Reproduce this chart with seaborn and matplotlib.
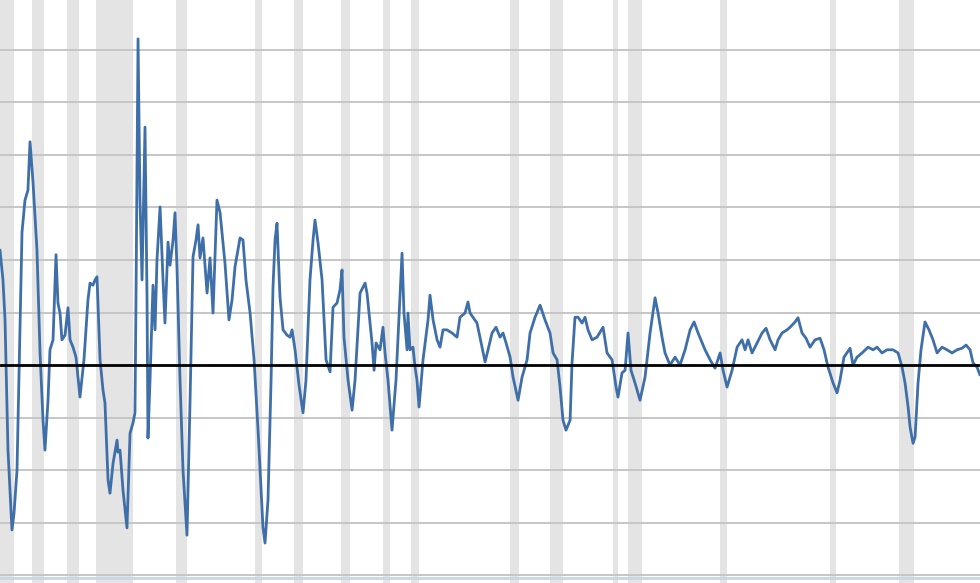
import matplotlib.pyplot as plt
import pandas as pd
import seaborn as sns

# year-over-year % change (decimal years)
years = [
    1920.20, 1920.49, 1920.69, 1920.98, 1921.37, 1921.57, 1921.86, 1922.15, 1922.35, 1922.64,
    1922.93, 1923.13, 1923.42, 1923.62, 1923.81, 1924.11, 1924.40, 1924.59, 1924.89, 1925.08,
    1925.38, 1925.67, 1925.86, 1926.06, 1926.25, 1926.55, 1926.84, 1927.04, 1927.33, 1927.62,
    1928.01, 1928.40, 1928.79, 1928.99, 1929.28, 1929.48, 1929.67, 1929.97, 1930.26, 1930.45,
    1930.75, 1930.94, 1931.24, 1931.63, 1931.72, 1931.92, 1932.21, 1932.60, 1932.90, 1933.19,
    1933.38, 1933.48, 1933.68, 1933.87, 1934.07, 1934.36, 1934.56, 1934.65, 1934.85, 1935.14,
    1935.34, 1935.53, 1935.83, 1936.12, 1936.31, 1936.61, 1936.80, 1937.10, 1937.29, 1937.49,
    1937.78, 1938.07, 1938.46, 1938.76, 1939.05, 1939.34, 1939.54, 1939.73, 1940.02, 1940.42,
    1940.71, 1941.00, 1941.39, 1941.69, 1942.17, 1942.56, 1942.86, 1943.15, 1943.64, 1943.93,
    1944.22, 1944.62, 1945.01, 1945.40, 1945.69, 1945.88, 1946.08, 1946.37, 1946.67, 1946.86,
    1947.06, 1947.25, 1947.54, 1947.84, 1948.23, 1948.52, 1948.72, 1949.01, 1949.40, 1949.79,
    1950.08, 1950.47, 1950.77, 1950.96, 1951.26, 1951.65, 1952.04, 1952.43, 1952.72, 1953.11,
    1953.40, 1953.60, 1953.79, 1954.19, 1954.58, 1954.87, 1955.36, 1955.85, 1956.04, 1956.53,
    1956.73, 1956.92, 1957.31, 1957.60, 1957.80, 1958.09, 1958.48, 1958.87, 1959.26, 1959.46,
    1959.65, 1959.95, 1960.04, 1960.24, 1960.53, 1960.73, 1960.92, 1961.12, 1961.51, 1962.00,
    1962.19, 1962.49, 1962.88, 1963.17, 1963.46, 1963.85, 1964.34, 1964.83, 1965.12, 1965.61,
    1965.90, 1966.10, 1966.78, 1967.27, 1967.57, 1967.86, 1968.25, 1968.64, 1969.03, 1969.32,
    1969.62, 1970.01, 1970.30, 1970.79, 1971.18, 1971.67, 1971.96, 1972.45, 1972.94, 1973.42,
    1973.91, 1974.21, 1974.60, 1974.89, 1975.18, 1975.47, 1975.87, 1976.06, 1976.35, 1976.65,
    1977.04, 1977.33, 1977.62, 1978.02, 1978.50, 1979.09, 1979.48, 1979.97, 1980.36, 1980.55,
    1980.94, 1981.24, 1981.53, 1981.82, 1982.21, 1982.70, 1983.19, 1983.68, 1984.17, 1984.46,
    1984.85, 1985.14, 1985.63, 1986.12, 1986.61, 1987.10, 1987.59, 1987.98, 1988.37, 1989.05,
    1989.54, 1990.03, 1990.52, 1990.81, 1991.20, 1991.69, 1992.18, 1992.66, 1992.96, 1993.25,
    1993.64, 1994.13, 1994.62, 1995.01, 1995.40, 1995.89, 1996.18, 1996.57, 1997.06, 1997.35,
    1997.84, 1998.13, 1998.52, 1998.91, 1999.30, 1999.79, 2000.28, 2000.67, 2001.06, 2001.55,
    2001.94, 2002.23, 2002.62, 2003.21, 2003.50, 2003.89, 2004.38, 2004.97, 2005.46, 2005.85,
    2006.33, 2006.82, 2007.41, 2007.90, 2008.29, 2008.58, 2008.88, 2009.07, 2009.36, 2009.56,
    2009.85, 2010.14, 2010.53, 2010.92, 2011.31, 2011.71, 2012.19, 2012.68, 2013.17, 2013.66,
    2014.15, 2014.54, 2014.93, 2015.22, 2015.61, 2015.90,
]
pct_change = [
    21.9, 16.2, 8.6, -16.2, -31.4, -28.2, -20.0, 6.7, 25.3, 31.4,
    33.3, 42.5, 34.9, 28.2, 21.9, 2.3, -10.5, -16.2, -6.7, 2.9,
    4.8, 21.0, 11.8, 9.9, 4.8, 5.7, 10.9, 4.8, 3.4, 1.5,
    -6.1, 1.0, 12.4, 15.6, 15.2, 16.2, 16.8, 1.0, -4.8, -7.2,
    -21.9, -24.4, -18.7, -14.3, -16.6, -16.2, -23.8, -31.0, -13.0, -11.0,
    -9.1, 12.4, 62.1, 31.4, 16.2, 45.3, 12.4, -13.9, -2.9, 15.2,
    6.7, 20.0, 30.1, 16.2, 8.0, 23.4, 19.0, 23.8, 29.0, 18.1,
    -2.9, -20.0, -32.4, -6.7, 20.6, 23.8, 26.7, 20.4, 24.2, 13.7,
    20.4, 9.9, 31.4, 29.0, 19.4, 8.6, 12.4, 18.7, 24.2, 23.8,
    16.2, 9.9, 1.0, -12.4, -23.8, -30.9, -33.9, -25.7, -2.9, 14.9,
    23.8, 27.0, 13.0, 6.7, 5.7, 5.3, 6.7, 2.9, -3.8, -9.1,
    -2.9, 16.2, 23.8, 27.6, 23.2, 16.2, 1.0, -1.3, 11.0, 11.8,
    14.3, 18.1, 5.3, -2.9, -8.6, -2.9, 13.7, 15.6, 13.7, 4.2,
    -1.0, 4.2, 2.9, 7.2, 2.3, -2.9, -12.4, -2.9, 13.0, 21.3,
    9.9, 2.9, 9.9, 2.9, 3.4, -0.4, -2.9, -8.0, 1.0, 8.6,
    13.3, 8.6, 4.8, 3.4, 6.7, 6.7, 6.1, 5.3, 9.1, 9.9,
    12.0, 9.9, 8.0, 3.4, 0.6, 2.9, 6.1, 7.2, 5.3, 6.1,
    4.2, 1.5, -2.3, -6.7, -2.3, 1.0, 6.1, 9.1, 11.4, 8.6,
    6.1, 2.3, 1.0, -4.2, -10.5, -12.4, -10.5, 0.4, 9.1, 9.1,
    8.0, 9.1, 6.7, 4.8, 5.3, 7.2, 2.3, 1.0, -4.2, -6.1,
    -1.5, -1.0, 6.1, -1.0, -3.4, -6.7, -2.3, 6.1, 12.8, 9.9,
    5.3, 2.3, 0.0, 1.5, 0.0, 2.9, 6.7, 8.2, 6.1, 2.9,
    1.0, -0.6, 2.3, -1.0, -4.2, -1.0, 3.4, 4.8, 2.9, 4.8,
    2.3, 4.2, 6.1, 7.0, 4.8, 2.9, 4.8, 6.1, 6.7, 7.2,
    8.2, 9.0, 6.1, 5.1, 3.4, 4.8, 5.1, 2.9, -0.4, -3.4,
    -5.3, -2.9, 1.5, 3.2, 0.0, 1.5, 2.3, 3.4, 2.9, 3.4,
    2.3, 2.9, 2.9, 2.3, -0.4, -3.4, -8.0, -11.8, -14.9, -13.7,
    -3.4, 2.9, 8.2, 6.7, 4.8, 2.3, 3.4, 2.9, 2.3, 2.9,
    3.2, 3.8, 2.9, 0.4, -0.4, -1.9,
]

# NBER recessions, peak to trough
recession_start = [1920.0, 1923.37, 1926.79, 1929.62, 1937.37, 1945.12, 1948.87, 1953.54,
                   1957.62, 1960.29, 1969.96, 1973.87, 1980.04, 1981.54, 1990.54, 2001.21, 2007.96]
recession_end = [1921.54, 1924.54, 1927.87, 1933.21, 1938.46, 1945.79, 1949.79, 1954.37,
                 1958.29, 1961.12, 1970.87, 1975.21, 1980.54, 1982.87, 1991.21, 2001.87, 2009.46]

grid_levels = [-40, -30, -20, -10, 10, 20, 30, 40, 50, 60]

df = pd.DataFrame({"year": years, "pct": pct_change})

sns.set_style("white")
fig = plt.figure(figsize=(9.8, 5.83), dpi=100)
ax = fig.add_axes([0, 0, 1, 1])

for start, end in zip(recession_start, recession_end):
    ax.axvspan(start, end, color="#e4e4e4", lw=0, zorder=0)

for level in grid_levels:
    ax.axhline(level, color="#c6c6c6", lw=1.4, zorder=1)
ax.axhline(-40.5, color="#c9d6e3", lw=2, zorder=1)

sns.lineplot(data=df, x="year", y="pct", color="#3f6fa8", lw=2.0, ax=ax, zorder=3)
ax.axhline(0, color="black", lw=2.0, zorder=4)

ax.set_xlim(1920.2, 2015.9)
ax.set_ylim(-41.5, 69.5)
ax.set_xlabel("")
ax.set_ylabel("")
ax.set_xticks([])
ax.set_yticks([])
for s in ax.spines.values():
    s.set_visible(False)

fig.savefig("out.png", dpi=100)
